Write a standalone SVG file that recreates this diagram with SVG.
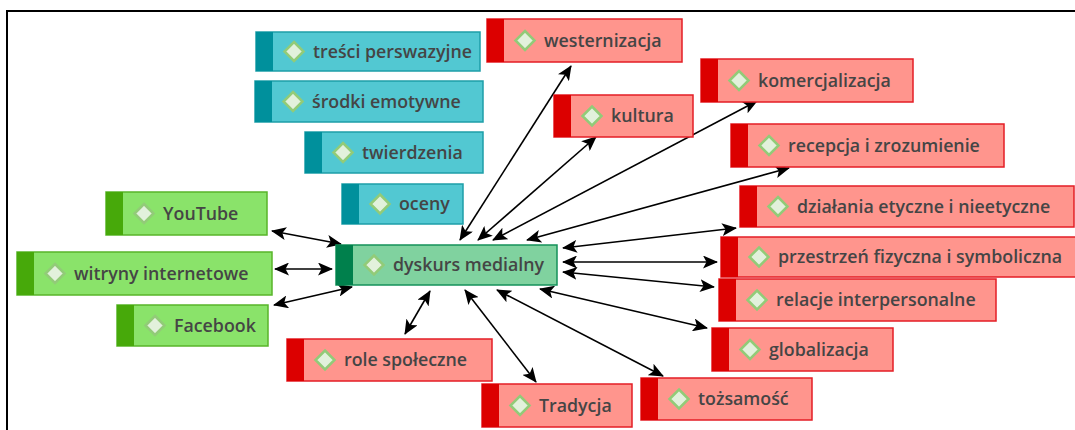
<svg xmlns="http://www.w3.org/2000/svg" width="1075" height="430" viewBox="0 0 1075 430">
  <style>
    .box { stroke-width: 1.5; }
    .teal .box { fill: #52C8D2; stroke: #1E9EA8; }
    .teal .strip { fill: #00909C; }
    .green .box { fill: #8AE36A; stroke: #58B52A; }
    .green .strip { fill: #47A90A; }
    .center .box { fill: #80D29F; stroke: #14915A; }
    .center .strip { fill: #00804C; }
    .red .box { fill: #FF958D; stroke: #E41E26; }
    .red .strip { fill: #DC0000; }
    .icon { fill: #E2F1DC; stroke: #92CB78; stroke-width: 2.5; }
    .label { font-family: "Open Sans", "Noto Sans", "Liberation Sans", sans-serif; font-size: 17.8px; fill: #454545; font-weight: 600; }
    .link { stroke: #000; stroke-width: 1.6; fill: none; marker-start: url(#head); marker-end: url(#head); }
  </style>
  <defs>
    <marker id="head" viewBox="0 0 15 13" refX="14" refY="6.5" markerWidth="15" markerHeight="13" markerUnits="userSpaceOnUse" orient="auto-start-reverse">
      <path d="M0,0 L15,6.5 L0,13 L3.5,6.5 z" fill="#000"/>
    </marker>
    <path id="dia" d="M0,-9.5 L9.5,0 L0,9.5 L-9.5,0 z"/>
  </defs>

  <rect width="1075" height="430" fill="#fff"/>
  <!-- outer frame -->
  <rect x="7" y="11" width="1100" height="440" fill="none" stroke="#000" stroke-width="2"/>

  <!-- connectors -->
  <g id="connectors">
    <line class="link" x1="341" y1="244" x2="272" y2="231"/>
    <line class="link" x1="332" y1="269" x2="275" y2="269"/>
    <line class="link" x1="352" y1="287" x2="274" y2="305"/>
    <line class="link" x1="460" y1="240" x2="571" y2="66"/>
    <line class="link" x1="478" y1="240" x2="596" y2="137"/>
    <line class="link" x1="493" y1="240" x2="757" y2="101"/>
    <line class="link" x1="527" y1="240" x2="789" y2="168"/>
    <line class="link" x1="563" y1="248" x2="736" y2="228"/>
    <line class="link" x1="563" y1="262" x2="717" y2="262"/>
    <line class="link" x1="563" y1="272" x2="714" y2="287"/>
    <line class="link" x1="540" y1="289" x2="707" y2="328"/>
    <line class="link" x1="497" y1="290" x2="663" y2="376"/>
    <line class="link" x1="465" y1="290" x2="536" y2="382"/>
    <line class="link" x1="430" y1="291" x2="405" y2="334"/>
  </g>

  <!-- teal nodes -->
  <g id="tresci-perswazyjne" class="teal">
    <rect class="box" x="256" y="32" width="224" height="39"/>
    <rect class="strip" x="256" y="32" width="17" height="39"/>
    <use href="#dia" class="icon" x="294" y="51.5"/>
    <text class="label" x="313" y="57.5">treści perswazyjne</text>
  </g>
  <g id="srodki-emotywne" class="teal">
    <rect class="box" x="255" y="81" width="228" height="41"/>
    <rect class="strip" x="255" y="81" width="17" height="41"/>
    <use href="#dia" class="icon" x="293" y="101.5"/>
    <text class="label" x="312" y="107.5">środki emotywne</text>
  </g>
  <g id="twierdzenia" class="teal">
    <rect class="box" x="305" y="132" width="178" height="41"/>
    <rect class="strip" x="305" y="132" width="17" height="41"/>
    <use href="#dia" class="icon" x="343" y="152.5"/>
    <text class="label" x="362" y="158.5">twierdzenia</text>
  </g>
  <g id="oceny" class="teal">
    <rect class="box" x="342" y="184" width="121" height="40"/>
    <rect class="strip" x="342" y="184" width="17" height="40"/>
    <use href="#dia" class="icon" x="380" y="204"/>
    <text class="label" x="399" y="210">oceny</text>
  </g>

  <!-- green nodes -->
  <g id="youtube" class="green">
    <rect class="box" x="106" y="192" width="161" height="43"/>
    <rect class="strip" x="106" y="192" width="17" height="43"/>
    <use href="#dia" class="icon" x="144" y="213.5"/>
    <text class="label" x="163" y="219.5">YouTube</text>
  </g>
  <g id="witryny-internetowe" class="green">
    <rect class="box" x="17" y="252" width="255" height="43"/>
    <rect class="strip" x="17" y="252" width="17" height="43"/>
    <use href="#dia" class="icon" x="55" y="273.5"/>
    <text class="label" x="74" y="279.5">witryny internetowe</text>
  </g>
  <g id="facebook" class="green">
    <rect class="box" x="117" y="305" width="151" height="41"/>
    <rect class="strip" x="117" y="305" width="17" height="41"/>
    <use href="#dia" class="icon" x="155" y="325.5"/>
    <text class="label" x="174" y="331.5">Facebook</text>
  </g>

  <!-- central node -->
  <g id="dyskurs-medialny" class="center">
    <rect class="box" x="336" y="245" width="221" height="40"/>
    <rect class="strip" x="336" y="245" width="17" height="40"/>
    <use href="#dia" class="icon" x="374" y="265"/>
    <text class="label" x="393" y="271">dyskurs medialny</text>
  </g>

  <!-- red nodes -->
  <g id="westernizacja" class="red">
    <rect class="box" x="487" y="19" width="195" height="43"/>
    <rect class="strip" x="487" y="19" width="17" height="43"/>
    <use href="#dia" class="icon" x="525" y="40.5"/>
    <text class="label" x="544" y="46.5">westernizacja</text>
  </g>
  <g id="kultura" class="red">
    <rect class="box" x="554" y="95" width="139" height="42"/>
    <rect class="strip" x="554" y="95" width="17" height="42"/>
    <use href="#dia" class="icon" x="592" y="116"/>
    <text class="label" x="611" y="122">kultura</text>
  </g>
  <g id="komercjalizacja" class="red">
    <rect class="box" x="701" y="59" width="212" height="43"/>
    <rect class="strip" x="701" y="59" width="17" height="43"/>
    <use href="#dia" class="icon" x="739" y="80.5"/>
    <text class="label" x="758" y="86.5">komercjalizacja</text>
  </g>
  <g id="recepcja-i-zrozumienie" class="red">
    <rect class="box" x="731" y="124" width="273" height="43"/>
    <rect class="strip" x="731" y="124" width="17" height="43"/>
    <use href="#dia" class="icon" x="769" y="145.5"/>
    <text class="label" x="788" y="151.5">recepcja i zrozumienie</text>
  </g>
  <g id="dzialania-etyczne" class="red">
    <rect class="box" x="740" y="186" width="334" height="41"/>
    <rect class="strip" x="740" y="186" width="17" height="41"/>
    <use href="#dia" class="icon" x="778" y="206.5"/>
    <text class="label" x="797" y="212.5">działania etyczne i nieetyczne</text>
  </g>
  <g id="przestrzen" class="red">
    <rect class="box" x="721" y="237" width="360" height="40"/>
    <rect class="strip" x="721" y="237" width="17" height="40"/>
    <use href="#dia" class="icon" x="759" y="257"/>
    <text class="label" x="778" y="263">przestrzeń fizyczna i symboliczna</text>
  </g>
  <g id="relacje-interpersonalne" class="red">
    <rect class="box" x="719" y="279" width="277" height="42"/>
    <rect class="strip" x="719" y="279" width="17" height="42"/>
    <use href="#dia" class="icon" x="757" y="300"/>
    <text class="label" x="776" y="306">relacje interpersonalne</text>
  </g>
  <g id="globalizacja" class="red">
    <rect class="box" x="712" y="328" width="181" height="43"/>
    <rect class="strip" x="712" y="328" width="17" height="43"/>
    <use href="#dia" class="icon" x="750" y="349.5"/>
    <text class="label" x="769" y="355.5">globalizacja</text>
  </g>
  <g id="tozsamosc" class="red">
    <rect class="box" x="641" y="378" width="171" height="42"/>
    <rect class="strip" x="641" y="378" width="17" height="42"/>
    <use href="#dia" class="icon" x="679" y="399"/>
    <text class="label" x="698" y="405">tożsamość</text>
  </g>
  <g id="role-spoleczne" class="red">
    <rect class="box" x="287" y="339" width="205" height="42"/>
    <rect class="strip" x="287" y="339" width="17" height="42"/>
    <use href="#dia" class="icon" x="325" y="360"/>
    <text class="label" x="344" y="366">role społeczne</text>
  </g>
  <g id="tradycja" class="red">
    <rect class="box" x="482" y="384" width="150" height="43"/>
    <rect class="strip" x="482" y="384" width="17" height="43"/>
    <use href="#dia" class="icon" x="520" y="405.5"/>
    <text class="label" x="539" y="411.5">Tradycja</text>
  </g>
</svg>
